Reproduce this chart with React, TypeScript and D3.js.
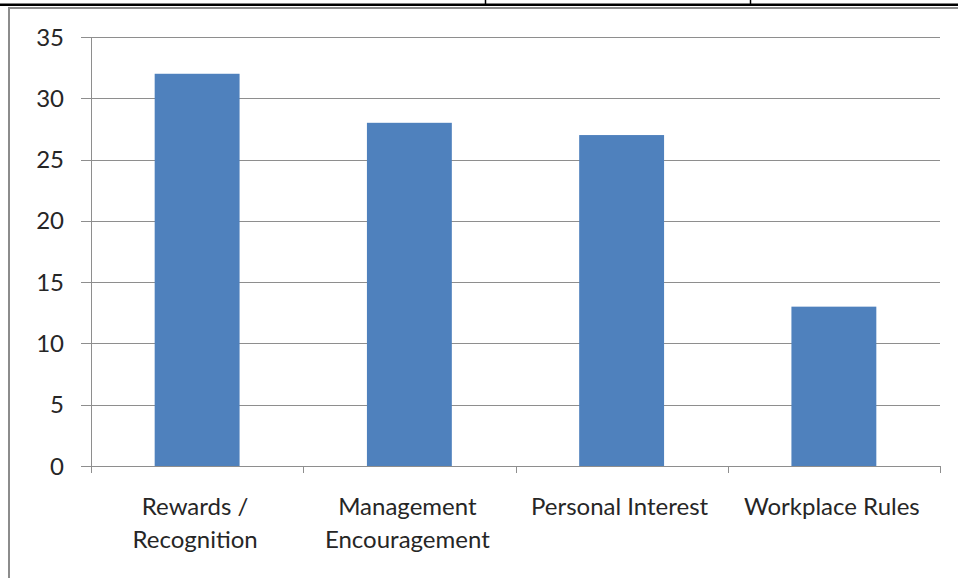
import React from "react";
import * as d3 from "d3";

const categories: string[][] = [
  ["Rewards /", "Recognition"],
  ["Management", "Encouragement"],
  ["Personal Interest"],
  ["Workplace\u00a0Rules"],
];
const values: number[] = [32, 28, 27, 13];
const yTicks: number[] = [0, 5, 10, 15, 20, 25, 30, 35];

const W = 958;
const H = 578;
const left = 91;
const right = 940;
const top = 37;
const bottom = 466;
const FONT = "Lato, 'Open Sans', sans-serif";

export default function App() {
  const keys = categories.map((c) => c.join(" "));
  const x = d3.scaleBand<string>().domain(keys).range([left, right]).paddingInner(0.6).paddingOuter(0.3);
  const y = d3.scaleLinear().domain([0, 35]).range([bottom, top]);
  const step = x.step();
  const boundaries = d3.range(keys.length + 1).map((i) => left + i * step);
  const grid = "#8e8e8e";

  return (
    <svg
      width={W}
      height={H}
      style={{ position: "absolute", left: 0, top: 0, background: "#fff" }}
    >
      <rect x={0} y={0} width={W} height={H} fill="#fff" />
      {/* top table border */}
      <rect x={0} y={3.5} width={W} height={2.5} fill="#000" />
      <line x1={485.5} x2={485.5} y1={0} y2={4} stroke="#000" strokeWidth={1.5} />
      <line x1={750.5} x2={750.5} y1={0} y2={4} stroke="#000" strokeWidth={1.5} />
      {/* chart frame */}
      <rect x={9} y={8} width={W + 20} height={H + 20} fill="none" stroke="#8c8c8c" strokeWidth={2} />

      {/* gridlines and y ticks */}
      {yTicks.map((t) => (
        <g key={t}>
          <line x1={81} x2={right} y1={Math.round(y(t)) + 0.5} y2={Math.round(y(t)) + 0.5} stroke={grid} strokeWidth={1} />
          <text
            x={64}
            y={y(t) + 8.5}
            textAnchor="end"
            fontFamily={FONT}
            fontSize={24}
            fill="#262626"
          >
            {t}
          </text>
        </g>
      ))}
      {/* y axis line */}
      <line x1={left + 0.5} x2={left + 0.5} y1={top} y2={bottom} stroke={grid} strokeWidth={1} />
      {/* x category ticks */}
      {boundaries.map((b, i) => (
        <line key={i} x1={Math.round(b) + 0.5} x2={Math.round(b) + 0.5} y1={bottom} y2={bottom + 7} stroke={grid} strokeWidth={1} />
      ))}
      {/* bars */}
      {values.map((v, i) => (
        <rect
          key={i}
          x={x(keys[i])}
          y={y(v)}
          width={x.bandwidth()}
          height={y(0) - y(v)}
          fill="#4f81bd"
        />
      ))}
      {/* x labels */}
      {categories.map((lines, i) => (
        <text
          key={i}
          textAnchor="middle"
          fontFamily={FONT}
          fontSize={24}
          fill="#262626"
        >
          {lines.map((l, j) => (
            <tspan key={j} x={(x(keys[i]) as number) + x.bandwidth() / 2 - 2} y={515 + j * 33}>
              {l}
            </tspan>
          ))}
        </text>
      ))}
    </svg>
  );
}
